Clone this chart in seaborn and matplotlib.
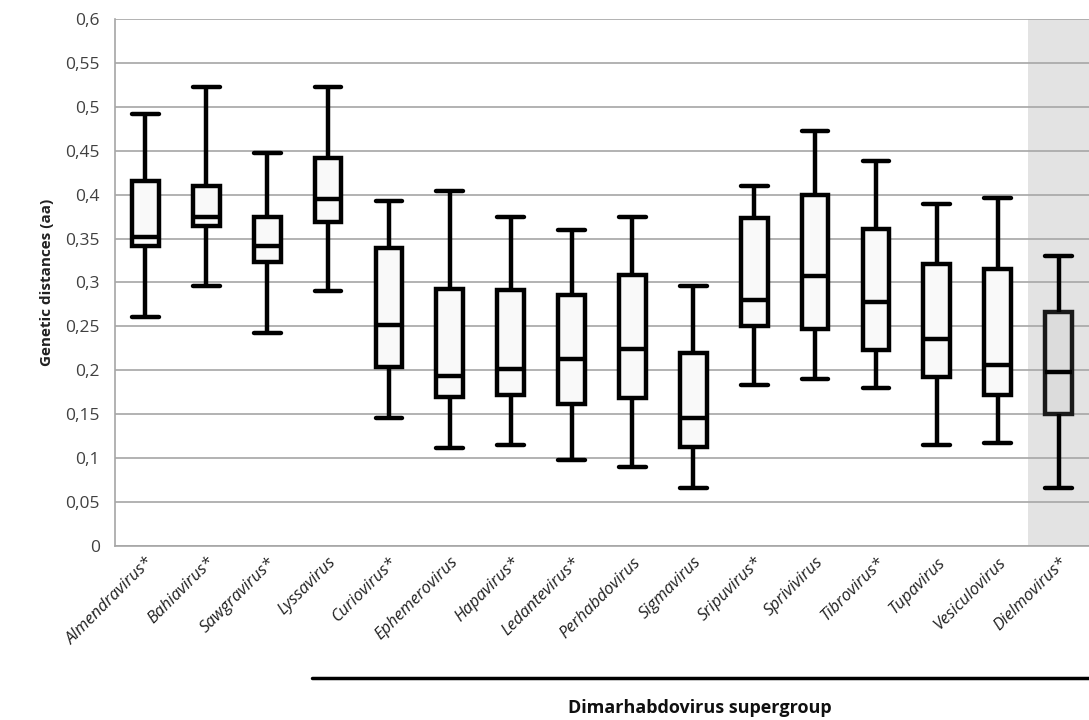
import numpy as np
import pandas as pd
import matplotlib
matplotlib.use("Agg")
import matplotlib.pyplot as plt
import seaborn as sns
from matplotlib.lines import Line2D
from matplotlib.ticker import FuncFormatter

genera = ["Almendravirus*", "Bahiavirus*", "Sawgravirus*", "Lyssavirus", "Curiovirus*",
          "Ephemerovirus", "Hapavirus*", "Ledantevirus*", "Perhabdovirus", "Sigmavirus",
          "Sripuvirus*", "Sprivivirus", "Tibrovirus*", "Tupavirus", "Vesiculovirus", "Dielmovirus*"]
whisker_low = [0.261, 0.296, 0.242, 0.290, 0.146, 0.112, 0.115, 0.098, 0.090, 0.066,
               0.183, 0.190, 0.180, 0.115, 0.117, 0.066]
q1 = [0.341, 0.364, 0.323, 0.369, 0.204, 0.170, 0.172, 0.162, 0.169, 0.113,
      0.250, 0.247, 0.223, 0.192, 0.172, 0.150]
median = [0.352, 0.375, 0.341, 0.395, 0.251, 0.194, 0.201, 0.213, 0.224, 0.146,
          0.280, 0.307, 0.278, 0.236, 0.206, 0.198]
q3 = [0.415, 0.410, 0.374, 0.442, 0.339, 0.293, 0.291, 0.286, 0.308, 0.220,
      0.373, 0.400, 0.361, 0.321, 0.315, 0.266]
whisker_high = [0.492, 0.522, 0.447, 0.522, 0.393, 0.404, 0.375, 0.360, 0.375, 0.296,
                0.410, 0.472, 0.438, 0.389, 0.396, 0.330]

# five summary values per genus -> quartiles land exactly on q1/median/q3
rows = []
for i, g in enumerate(genera):
    for v in (whisker_low[i], q1[i], median[i], q3[i], whisker_high[i]):
        rows.append({"genus": g, "dist": v})
df = pd.DataFrame(rows)

sns.set_theme(style="white")
plt.rcParams["font.family"] = ["Open Sans", "DejaVu Sans"]

fig = plt.figure(figsize=(10.89, 7.2), dpi=100)
ax = fig.add_axes([0.1056, 0.2417, 0.8944, 0.732])

ax.axvspan(14.5, 15.5, color="#e3e3e3", zorder=0, lw=0)

lw = 3.2
sns.boxplot(data=df, x="genus", y="dist", order=genera, whis=(0, 100), width=0.44,
            color="#f9f9f9", linecolor="black", linewidth=lw, ax=ax, zorder=3,
            boxprops=dict(facecolor="#f9f9f9", edgecolor="black", linewidth=lw),
            whiskerprops=dict(color="black", linewidth=lw),
            capprops=dict(color="black", linewidth=lw),
            medianprops=dict(color="black", linewidth=lw),
            capwidths=0.44)

# the last box sits on the shaded band, so its fill reads darker
ax.patches[-1].set_facecolor("#dcdcdc")
ax.patches[-1].set_edgecolor("#1a1a1a")

ax.set_ylim(0, 0.6)
ax.set_xlim(-0.5, 15.5)
ax.set_yticks(np.arange(0, 0.61, 0.05))
ax.yaxis.set_major_formatter(FuncFormatter(lambda v, _: ("%g" % round(v, 2)).replace(".", ",")))
ax.yaxis.grid(True, color="#a6a6a6", linewidth=1.2)
ax.set_axisbelow(True)

for s in ["top", "right"]:
    ax.spines[s].set_visible(False)
for s in ["left", "bottom"]:
    ax.spines[s].set_color("#a6a6a6")
    ax.spines[s].set_linewidth(1.2)
    ax.spines[s].set_zorder(1)

ax.tick_params(axis="y", length=6, color="#a6a6a6", width=1.2, labelsize=12.5,
               labelcolor="#404040", pad=5)
ax.set_xticks(np.arange(-0.5, 15.6, 1), minor=True)
ax.tick_params(axis="x", which="minor", length=6, color="#a6a6a6", width=1.2, direction="out")
ax.tick_params(axis="x", which="major", length=0, pad=6)
ax.set_xticks(range(len(genera)))
ax.set_xticklabels(genera, rotation=45, ha="right", rotation_mode="anchor",
                   fontstyle="italic", fontsize=12, color="#202020")

ax.set_xlabel("")
ax.set_ylabel("Genetic distances (aa)", fontsize=11, fontweight="bold", color="#202020", labelpad=8)

fig.add_artist(Line2D([0.2865, 1.0], [0.058, 0.058], transform=fig.transFigure,
                      color="black", linewidth=2.5))
fig.text(0.643, 0.017, "Dimarhabdovirus supergroup", ha="center", va="center",
         fontsize=13, fontweight="bold", color="#101010")

fig.savefig("out.png", dpi=100)
